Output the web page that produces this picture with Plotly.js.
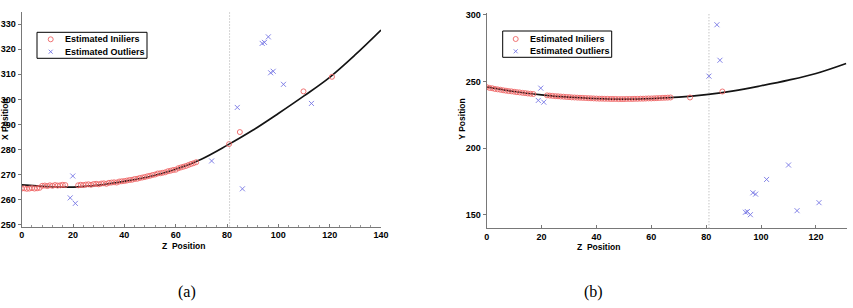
<!DOCTYPE html>
<html><head><meta charset="utf-8">
<script src="https://cdn.plot.ly/plotly-3.0.1.min.js"></script>
<style>html,body{margin:0;padding:0;background:#fff}#chart{width:853px;height:308px}</style>
</head><body><div id="chart"></div><script>
// ---------- Panel (a): X Position vs Z Position ----------
const inlierZA = [0,1,2,3,4,5,6,7,8,9,10,11,12,13,14,15,16,17,
  22,23,24,25,26,27,28,29,30,31,32,33,34,35,36,37,38,39,40,41,42,43,44,45,
  46,47,48,49,50,51,52,53,54,55,56,57,58,59,60,61,62,63,64,65,66,67,68,
  80.8,85,109.8,120.9];
const inlierXA = [264.5,264.6,264.4,264.5,264.7,264.5,264.6,264.8,265.6,265.7,265.5,265.8,265.6,265.9,265.7,265.8,266.0,265.9,
  265.8,266.0,265.9,266.1,266.2,266.0,266.3,266.4,266.2,266.5,266.6,266.4,266.8,266.9,267.0,266.9,267.3,267.4,267.5,267.7,267.9,268.0,268.3,268.4,
  268.7,268.9,269.1,269.4,269.6,269.9,270.1,270.5,270.6,270.8,271.0,271.4,271.6,271.9,272.0,272.6,272.9,273.2,273.5,273.9,274.3,274.6,275.0,
  282.2,287.0,303.2,309.0];
const outlierZA = [18.9,19.9,20.9,74,84,86,93.7,94.6,96.1,97,98,102,112.9];
const outlierXA = [260.8,269.5,258.6,275.5,296.8,264.4,322.3,322.7,324.9,310.6,311.2,306.0,298.4];
const fitZA = [0,10,20,30,40,50,60,70,80,90,100,110,120,130,140];
const fitXA = [266.0,265.3,265.1,265.9,267.4,269.3,272.2,276.2,281.7,287.7,294.4,301.4,308.8,317.8,327.6];

// ---------- Panel (b): Y Position vs Z Position ----------
const inlierZB = [0,1,2,3,4,5,6,7,8,9,10,11,12,13,14,15,16,17,
  22,23,24,25,26,27,28,29,30,31,32,33,34,35,36,37,38,39,40,41,42,43,44,45,
  46,47,48,49,50,51,52,53,54,55,56,57,58,59,60,61,62,63,64,65,66,67,
  74.1,85.9];
const inlierYB = [245.8,245.2,244.9,244.4,244.1,243.8,243.4,243.1,242.8,242.6,242.3,242.0,241.8,241.5,241.3,241.0,240.8,240.6,
  239.6,239.4,239.2,239.0,238.9,238.7,238.6,238.4,238.3,238.1,238.0,237.9,237.8,237.7,237.6,237.5,237.4,237.3,237.2,237.1,237.1,237.0,237.0,236.9,
  236.9,236.9,236.8,236.8,236.8,236.9,236.9,236.9,237.0,237.0,237.1,237.1,237.2,237.3,237.3,237.4,237.5,237.6,237.7,237.8,237.9,238.0,
  238.0,242.5];
const outlierZB = [18.8,19.7,20.8,81.0,83.9,85.0,94.3,95.0,96.1,97,98,102,110,113.1,121.1];
const outlierYB = [235.8,245.0,234.5,254.0,292.5,265.9,152.0,152.5,150.2,166.6,165.6,176.6,187.4,153.2,159.2];
const fitZB = [0,10,20,30,40,50,60,70,80,90,100,110,120,131];
const fitYB = [246.0,242.5,240.0,238.2,237.2,236.8,237.2,238.2,240.2,243.0,246.8,251.0,256.0,263.5];

// ---------- Labels ----------
const legendNames = ['Estimated Iniliers', 'Estimated Outliers'];
const xTitle = 'Z\u00a0 Position';
const yTitleA = 'X Position';
const yTitleB = 'Y Position';
const captions = ['(a)', '(b)'];
const dividerZ = 81;

const inlierColor = 'rgb(238,100,100)';
const outlierColor = 'rgb(118,118,228)';
const SANS = 'Liberation Sans';
const tickFont = {family: SANS, size: 9, color: '#000', weight: 700};
const titleFont = {family: SANS, size: 8.5, color: '#000', weight: 700};

function inl(x, y, xa, ya) {
  return {x: x, y: y, xaxis: xa, yaxis: ya, type: 'scatter', mode: 'markers', name: legendNames[0], showlegend: false,
    marker: {symbol: 'circle-open', size: 5, color: inlierColor, line: {width: 0.9, color: inlierColor}}};
}
function outl(x, y, xa, ya) {
  return {x: x, y: y, xaxis: xa, yaxis: ya, type: 'scatter', mode: 'markers', name: legendNames[1], showlegend: false,
    marker: {symbol: 'x-thin-open', size: 5, color: outlierColor, line: {width: 0.9, color: outlierColor}}};
}
function fit(x, y, xa, ya) {
  return {x: x, y: y, xaxis: xa, yaxis: ya, type: 'scatter', mode: 'lines', showlegend: false, hoverinfo: 'skip',
    line: {color: 'rgb(20,20,20)', width: 1.7, shape: 'spline', smoothing: 1.0}};
}

const data = [
  fit(fitZA, fitXA, 'x', 'y'),
  inl(inlierZA, inlierXA, 'x', 'y'),
  outl(outlierZA, outlierXA, 'x', 'y'),
  fit(fitZB, fitYB, 'x2', 'y2'),
  inl(inlierZB, inlierYB, 'x2', 'y2'),
  outl(outlierZB, outlierYB, 'x2', 'y2')
];

const axisCommon = {showgrid: false, zeroline: false, showline: true, linecolor: 'rgb(120,120,120)', linewidth: 1,
  tickcolor: 'rgb(120,120,120)', tickwidth: 1, tickfont: tickFont, mirror: false};

// pixel -> paper helpers (for the hand-placed legend boxes and labels)
const px = v => v / 853;
const py = v => 1 - v / 308;

// legend box geometry: [left, top, right, bottom, symbolX, textX, row1Y, row2Y]
const legendBoxes = [
  [37, 32.3, 147, 58.3, 50.7, 63.3, 39.3, 51.7],
  [502.7, 31, 611.7, 57.3, 515.7, 527.7, 39.0, 51.3]
];

const shapes = [
  {type: 'line', xref: 'x', yref: 'y domain', x0: dividerZ, x1: dividerZ, y0: 0, y1: 1, line: {color: 'rgb(170,170,170)', width: 1, dash: '1px,2px'}},
  {type: 'line', xref: 'x2', yref: 'y2 domain', x0: dividerZ, x1: dividerZ, y0: 0, y1: 1, line: {color: 'rgb(170,170,170)', width: 1, dash: '1px,2px'}}
];
const annotations = [];
legendBoxes.forEach(b => {
  const [l, t, r, bt, sx, tx, r1, r2] = b;
  shapes.push({type: 'rect', xref: 'paper', yref: 'paper', x0: px(l), x1: px(r), y0: py(bt), y1: py(t), line: {color: '#000', width: 1}, fillcolor: '#fff', layer: 'above'});
  shapes.push({type: 'circle', xref: 'paper', yref: 'paper', x0: px(sx - 2.5), x1: px(sx + 2.5), y0: py(r1 + 2.5), y1: py(r1 - 2.5), line: {color: inlierColor, width: 0.9}, layer: 'above'});
  shapes.push({type: 'line', xref: 'paper', yref: 'paper', x0: px(sx - 2), x1: px(sx + 2), y0: py(r2 + 2), y1: py(r2 - 2), line: {color: outlierColor, width: 0.9}, layer: 'above'});
  shapes.push({type: 'line', xref: 'paper', yref: 'paper', x0: px(sx - 2), x1: px(sx + 2), y0: py(r2 - 2), y1: py(r2 + 2), line: {color: outlierColor, width: 0.9}, layer: 'above'});
  annotations.push({text: legendNames[0], xref: 'paper', yref: 'paper', x: px(tx), y: py(r1), xanchor: 'left', yanchor: 'middle', showarrow: false, font: {family: SANS, size: 9, color: '#000', weight: 700}});
  annotations.push({text: legendNames[1], xref: 'paper', yref: 'paper', x: px(tx), y: py(r2), xanchor: 'left', yanchor: 'middle', showarrow: false, font: {family: SANS, size: 9, color: '#000', weight: 700}});
});
annotations.push(
  {text: xTitle, xref: 'paper', yref: 'paper', x: px(183), y: py(246), showarrow: false, xanchor: 'center', yanchor: 'middle', font: titleFont},
  {text: xTitle, xref: 'paper', yref: 'paper', x: px(598.3), y: py(247), showarrow: false, xanchor: 'center', yanchor: 'middle', font: titleFont},
  {text: yTitleA, xref: 'paper', yref: 'paper', x: px(5), y: py(119), showarrow: false, textangle: -90, xanchor: 'center', yanchor: 'middle', font: titleFont},
  {text: yTitleB, xref: 'paper', yref: 'paper', x: px(461.7), y: py(119), showarrow: false, textangle: -90, xanchor: 'center', yanchor: 'middle', font: titleFont},
  {text: captions[0], xref: 'paper', yref: 'paper', x: px(186.7), y: py(291.7), showarrow: false, xanchor: 'center', yanchor: 'middle', font: {family: 'Liberation Serif', size: 16, color: '#000'}},
  {text: captions[1], xref: 'paper', yref: 'paper', x: px(593.3), y: py(291.7), showarrow: false, xanchor: 'center', yanchor: 'middle', font: {family: 'Liberation Serif', size: 16, color: '#000'}}
);

const layout = {
  width: 853, height: 308, margin: {l: 0, r: 0, t: 0, b: 0}, paper_bgcolor: '#fff', plot_bgcolor: '#fff', showlegend: false,
  xaxis: Object.assign({}, axisCommon, {domain: [px(21.7), px(381)], range: [0, 140], tick0: 0, dtick: 20, ticks: 'inside', ticklen: 3,
    minor: {dtick: 4, ticks: 'inside', ticklen: 2, tickcolor: 'rgb(150,150,150)'}, anchor: 'y'}),
  yaxis: Object.assign({}, axisCommon, {domain: [py(226.5), py(12)], range: [249.4, 334.8], tick0: 250, dtick: 10, ticks: 'outside', ticklen: 3, anchor: 'x'}),
  xaxis2: Object.assign({}, axisCommon, {domain: [px(486.7), px(846.7)], range: [0, 131.2], tick0: 0, dtick: 20, ticks: 'inside', ticklen: 3, anchor: 'y2'}),
  yaxis2: Object.assign({}, axisCommon, {domain: [py(228.3), py(13)], range: [140.0, 301.3], tick0: 150, dtick: 50, ticks: 'outside', ticklen: 3, anchor: 'x2'}),
  shapes: shapes,
  annotations: annotations
};

Plotly.newPlot('chart', data, layout, {displayModeBar: false, staticPlot: true});
</script></body></html>
